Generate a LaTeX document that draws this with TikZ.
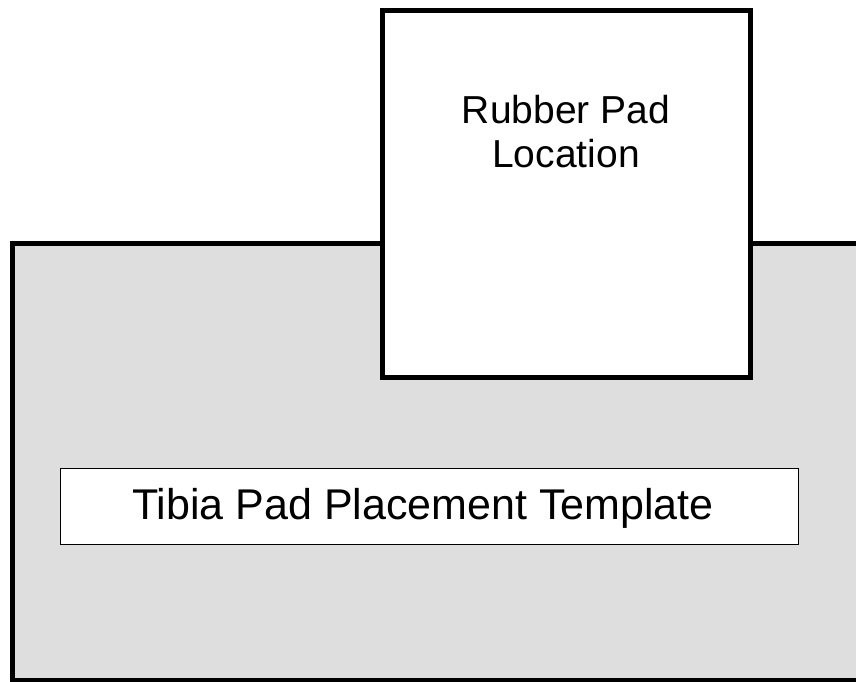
\documentclass[tikz,border=0pt]{standalone}
\usepackage{fontspec}
\setmainfont{Liberation Sans}
\begin{document}
\begin{tikzpicture}[x=1pt,y=-1pt,
  thick border/.style={draw=black,line width=5pt},
  templ/.style={thick border,fill=black!13},
  padbox/.style={thick border,fill=white},
  labelbox/.style={draw=black,line width=1.1pt,fill=white}]
\useasboundingbox (0,0) rectangle (856,682);
\clip (0,0) rectangle (856,682);
\path[templ] (12.5,243.5) rectangle (880,680.5);
\node[padbox,minimum width=368pt,minimum height=367pt,inner sep=0pt,anchor=north west] (pad) at (380,8) {};
\node[align=center,font=\fontsize{39}{43.5}\selectfont,anchor=north] (padtext) at (566,92) {Rubber Pad\\Location};
\node[labelbox,minimum width=738.5pt,minimum height=76pt,inner sep=0pt,anchor=north west] (label) at (59.5,467.5) {};
\node[font=\fontsize{43}{48}\selectfont] (labeltext) at (423,508.5) {Tibia Pad Placement Template};
\end{tikzpicture}
\end{document}
